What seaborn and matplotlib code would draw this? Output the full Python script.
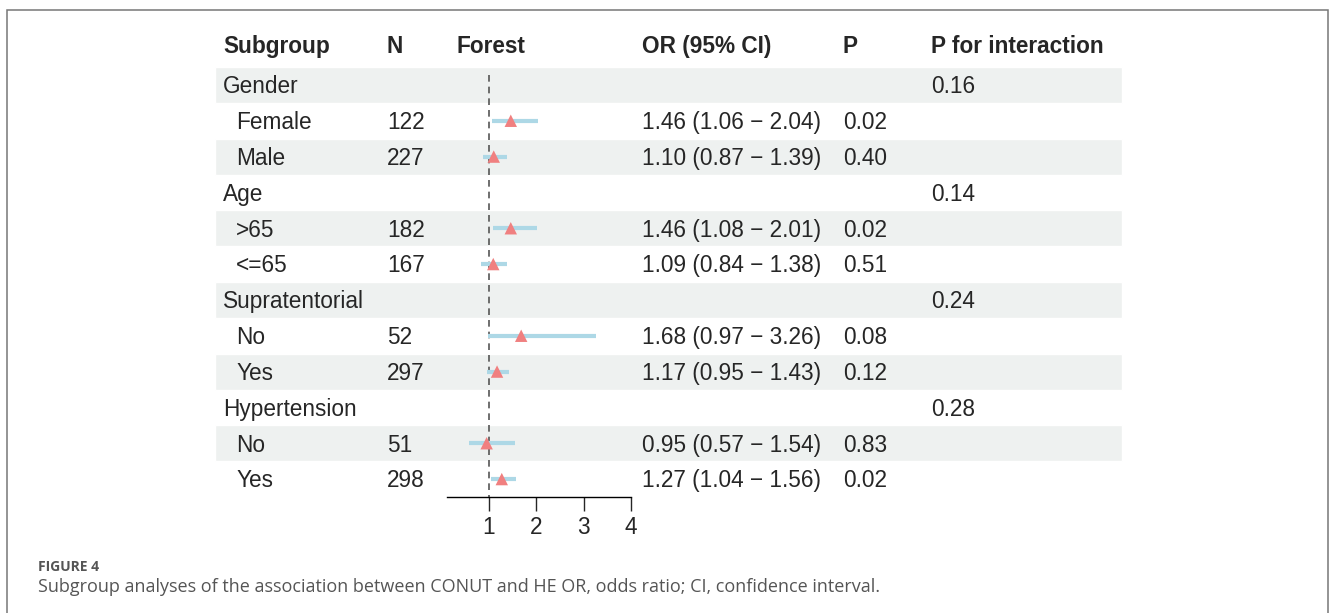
import numpy as np
import pandas as pd
import matplotlib
matplotlib.use("Agg")
import matplotlib.pyplot as plt
import matplotlib.patches as patches
import seaborn as sns

sns.set_style("white")
plt.rcParams["font.family"] = ["Liberation Sans", "DejaVu Sans"]

# ---- data ----
labels = ["Gender", "Female", "Male", "Age", ">65", "<=65", "Supratentorial",
          "No", "Yes", "Hypertension", "No", "Yes"]
is_sub = [False, True, True, False, True, True, False, True, True, False, True, True]
n_vals = ["", "122", "227", "", "182", "167", "", "52", "297", "", "51", "298"]
or_est = [np.nan, 1.46, 1.10, np.nan, 1.46, 1.09, np.nan, 1.68, 1.17, np.nan, 0.95, 1.27]
ci_low = [np.nan, 1.06, 0.87, np.nan, 1.08, 0.84, np.nan, 0.97, 0.95, np.nan, 0.57, 1.04]
ci_high = [np.nan, 2.04, 1.39, np.nan, 2.01, 1.38, np.nan, 3.26, 1.43, np.nan, 1.54, 1.56]
p_vals = ["", "0.02", "0.40", "", "0.02", "0.51", "", "0.08", "0.12", "", "0.83", "0.02"]
p_inter = ["0.16", "", "", "0.14", "", "", "0.24", "", "", "0.28", "", ""]
headers = ["Subgroup", "N", "Forest", "OR (95% CI)", "P", "P for interaction"]
x_ticks = [1, 2, 3, 4]

df = pd.DataFrame({"label": labels, "sub": is_sub, "n": n_vals, "or": or_est,
                   "lo": ci_low, "hi": ci_high, "p": p_vals, "pint": p_inter})
df["row"] = np.arange(1, len(df) + 1)

W, H = 1330, 613
fig = plt.figure(figsize=(W / 100, H / 100), dpi=100)
fs = 16.3

# table area in pixel units
top_px, bot_px = 67, 497
ax = fig.add_axes([0, 1 - bot_px / H, 1, (bot_px - top_px) / H])
ax.set_xlim(0, W)
ax.set_ylim(len(df) + 0.5, 0.5)
ax.axis("off")

# zebra bands
band = df[df["row"] % 2 == 1]
ax.barh(band["row"], width=1122 - 215, left=215, height=1, color="#eef1f0", zorder=0)

# header
hx = [223, 387, 457, 642, 843, 931]
for x, h in zip(hx, headers):
    ax.text(x, -0.06, h, fontsize=fs, fontweight="bold", va="center", ha="left", clip_on=False)

dy = 0.05  # small nudge so the glyphs sit centred like the original
for _, r in df.iterrows():
    y = r["row"] + dy
    ax.text(236 if r["sub"] else 223, y, r["label"], fontsize=fs, va="center")
    ax.text(387, y, r["n"], fontsize=fs, va="center")
    if not np.isnan(r["or"]):
        ax.text(642, y, f"{r['or']:.2f} ({r['lo']:.2f} \u2212 {r['hi']:.2f})", fontsize=fs, va="center")
    ax.text(843, y, r["p"], fontsize=fs, va="center")
    ax.text(931, y, r["pint"], fontsize=fs, va="center")

# forest panel
fx0, fx1 = 447, 631
fax = fig.add_axes([fx0 / W, 1 - bot_px / H, (fx1 - fx0) / W, (bot_px - top_px) / H])
fax.patch.set_alpha(0)
est = df.dropna(subset=["or"])
fax.hlines(est["row"], est["lo"], est["hi"], color="#add8e6", lw=3, zorder=2)
sns.scatterplot(data=est, x="or", y="row", marker="^", s=80, color="#f08080",
                edgecolor="none", ax=fax, zorder=3)
fax.vlines(1, 0.72, len(df) + 0.5, color="#555555", lw=1.2, linestyles=(0, (4, 3)), zorder=1)
fax.set_xlim(0.1126, 4)
fax.set_ylim(len(df) + 0.5, 0.5)
fax.set_xlabel("")
fax.set_ylabel("")
fax.set_yticks([])
fax.set_xticks(x_ticks)
fax.tick_params(axis="x", direction="out", length=10.4, width=1, labelsize=fs, pad=3.5, bottom=True)
for s in ["top", "left", "right"]:
    fax.spines[s].set_visible(False)
fax.spines["bottom"].set_color("black")
fax.spines["bottom"].set_linewidth(1)

# caption and frame
fig.text(38 / W, 1 - 571 / H, "FIGURE 4", fontsize=10, fontweight="bold", color="#555555",
         family=["Open Sans", "DejaVu Sans"], va="baseline")
fig.text(38 / W, 1 - 592 / H,
         "Subgroup analyses of the association between CONUT and HE OR, odds ratio; CI, confidence interval.",
         fontsize=13, color="#555555", family=["Open Sans", "DejaVu Sans"], va="baseline")
fig.patches.append(patches.Rectangle((6.5 / W, -0.05), (1328 - 6.5) / W, 1.05 - 9.5 / H,
                                     transform=fig.transFigure, fill=False,
                                     edgecolor="#777777", lw=1.1))

fig.savefig("out.png", dpi=100)
